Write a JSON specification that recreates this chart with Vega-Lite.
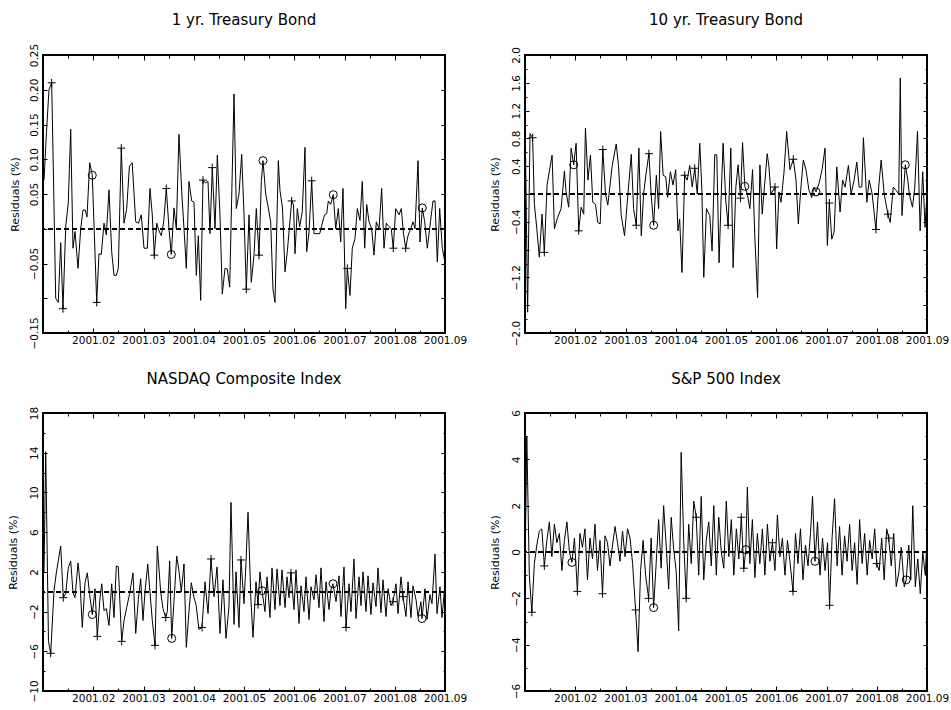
{
"$schema": "https://vega.github.io/schema/vega-lite/v6.json",
"background": "white",
"padding": {"left": 5, "top": 11, "right": 5, "bottom": 5},
"columns": 2,
"bounds": "flush",
"spacing": {"row": 80, "column": 80},
"config": {
  "font": "DejaVu Sans",
  "view": {"stroke": "black", "strokeWidth": 2},
  "axis": {"domain": false, "grid": false, "tickColor": "black", "tickWidth": 1, "labelColor": "black", "titleColor": "black", "labelFont": "DejaVu Sans", "titleFont": "DejaVu Sans", "titleFontWeight": "normal", "labelFontSize": 10.5, "titleFontSize": 11, "labelOverlap": false, "labelBound": false, "labelFlush": false},
  "title": {"font": "DejaVu Sans", "fontSize": 15, "fontWeight": "normal", "color": "black"}
},
"datasets": {
"ty1": [
{"t":1.020,"v":0.07},{"t":1.070,"v":0.14},{"t":1.119,"v":0.20},{"t":1.173,"v":0.21,"m":"+"},{"t":1.253,"v":-0.10},{"t":1.304,"v":-0.106},{"t":1.352,"v":-0.02},{"t":1.398,"v":-0.115,"m":"+"},{"t":1.452,"v":0.003},{"t":1.503,"v":0.037},{"t":1.551,"v":0.143},{"t":1.597,"v":-0.028},{"t":1.637,"v":-0.004},{"t":1.697,"v":-0.057},{"t":1.750,"v":0.0},{"t":1.796,"v":0.027},{"t":1.840,"v":0.027},{"t":1.876,"v":0.017},{"t":1.929,"v":0.095},{"t":1.981,"v":0.077,"m":"o"},{"t":2.069,"v":-0.106,"m":"+"},{"t":2.114,"v":-0.036},{"t":2.160,"v":-0.037},{"t":2.214,"v":0.008},{"t":2.260,"v":-0.009},{"t":2.313,"v":0.056},{"t":2.367,"v":-0.033},{"t":2.413,"v":-0.067},{"t":2.459,"v":-0.067},{"t":2.499,"v":-0.057},{"t":2.558,"v":0.116,"m":"+"},{"t":2.612,"v":0.008},{"t":2.666,"v":0.029},{"t":2.720,"v":0.09},{"t":2.775,"v":0.095},{"t":2.845,"v":0.01},{"t":2.900,"v":0.008},{"t":2.956,"v":0.02},{"t":3.010,"v":-0.028},{"t":3.076,"v":-0.028},{"t":3.129,"v":0.058},{"t":3.175,"v":0.02},{"t":3.215,"v":-0.038,"m":"+"},{"t":3.263,"v":0.008},{"t":3.308,"v":-0.003},{"t":3.354,"v":-0.01},{"t":3.402,"v":0.01},{"t":3.454,"v":0.058,"m":"+"},{"t":3.507,"v":0.0},{"t":3.553,"v":-0.037,"m":"o"},{"t":3.607,"v":0.03},{"t":3.653,"v":0.0},{"t":3.706,"v":0.136},{"t":3.760,"v":0.054},{"t":3.806,"v":0.0},{"t":3.852,"v":-0.057},{"t":3.905,"v":0.068},{"t":3.959,"v":0.04},{"t":4.005,"v":0.038},{"t":4.051,"v":-0.067},{"t":4.091,"v":-0.01},{"t":4.138,"v":-0.103},{"t":4.184,"v":0.07,"m":"+"},{"t":4.234,"v":0.066},{"t":4.284,"v":0.068},{"t":4.323,"v":-0.007},{"t":4.369,"v":0.088,"m":"+"},{"t":4.423,"v":0.0},{"t":4.469,"v":0.106},{"t":4.522,"v":0.02},{"t":4.568,"v":-0.094},{"t":4.622,"v":-0.057},{"t":4.668,"v":-0.058},{"t":4.715,"v":-0.084},{"t":4.801,"v":0.194},{"t":4.847,"v":0.029},{"t":4.900,"v":0.05},{"t":4.954,"v":0.107},{"t":5.000,"v":0.02},{"t":5.046,"v":-0.087,"m":"+"},{"t":5.100,"v":0.02},{"t":5.145,"v":-0.077},{"t":5.199,"v":-0.038},{"t":5.245,"v":0.029},{"t":5.299,"v":-0.038,"m":"+"},{"t":5.345,"v":0.068},{"t":5.378,"v":0.098,"m":"o"},{"t":5.432,"v":0.05},{"t":5.484,"v":0.03},{"t":5.531,"v":0.01},{"t":5.577,"v":-0.087},{"t":5.617,"v":-0.106},{"t":5.683,"v":0.098},{"t":5.716,"v":0.055},{"t":5.766,"v":0.03},{"t":5.816,"v":-0.062},{"t":5.862,"v":-0.033},{"t":5.949,"v":0.04,"m":"+"},{"t":5.985,"v":0.035},{"t":6.015,"v":-0.036},{"t":6.061,"v":0.029},{"t":6.108,"v":0.003},{"t":6.160,"v":0.025},{"t":6.214,"v":0.117},{"t":6.248,"v":-0.033},{"t":6.294,"v":-0.005},{"t":6.347,"v":0.069,"m":"+"},{"t":6.393,"v":-0.007},{"t":6.453,"v":-0.007},{"t":6.507,"v":-0.007},{"t":6.558,"v":0.008},{"t":6.602,"v":0.02},{"t":6.646,"v":0.022},{"t":6.678,"v":0.04},{"t":6.725,"v":0.035},{"t":6.777,"v":0.049,"m":"o"},{"t":6.825,"v":0.0},{"t":6.877,"v":0.029},{"t":6.924,"v":-0.019},{"t":6.970,"v":0.058},{"t":7.024,"v":-0.115},{"t":7.056,"v":-0.057,"m":"+"},{"t":7.109,"v":-0.096},{"t":7.155,"v":-0.028},{"t":7.209,"v":-0.014},{"t":7.255,"v":0.029},{"t":7.308,"v":0.012},{"t":7.354,"v":0.068},{"t":7.402,"v":-0.028},{"t":7.442,"v":0.035},{"t":7.488,"v":0.01},{"t":7.541,"v":0.0},{"t":7.587,"v":-0.038},{"t":7.633,"v":0.01},{"t":7.687,"v":0.0},{"t":7.740,"v":0.058},{"t":7.786,"v":-0.028},{"t":7.832,"v":0.008},{"t":7.886,"v":0.003},{"t":7.931,"v":0.0},{"t":7.971,"v":-0.028,"m":"+"},{"t":8.019,"v":0.029},{"t":8.085,"v":0.02},{"t":8.130,"v":0.029},{"t":8.174,"v":-0.007},{"t":8.218,"v":-0.028,"m":"+"},{"t":8.264,"v":-0.01},{"t":8.318,"v":0.0},{"t":8.363,"v":0.01},{"t":8.403,"v":0.0},{"t":8.463,"v":0.098},{"t":8.502,"v":-0.019},{"t":8.548,"v":0.03,"m":"o"},{"t":8.596,"v":0.01},{"t":8.648,"v":-0.028},{"t":8.711,"v":0.01},{"t":8.761,"v":0.04},{"t":8.801,"v":0.04},{"t":8.847,"v":-0.048},{"t":8.894,"v":0.029},{"t":8.946,"v":-0.028},{"t":8.990,"v":-0.045}
],
"ty10": [
{"t":1.006,"v":0.85},{"t":1.052,"v":-1.7},{"t":1.100,"v":0.87},{"t":1.152,"v":0.81,"m":"+"},{"t":1.186,"v":-0.14},{"t":1.235,"v":-0.5},{"t":1.285,"v":-0.91},{"t":1.339,"v":-0.29},{"t":1.385,"v":-0.84,"m":"+"},{"t":1.439,"v":0.13},{"t":1.539,"v":0.56},{"t":1.585,"v":-0.50},{"t":1.644,"v":-0.35},{"t":1.718,"v":-0.21},{"t":1.784,"v":0.33},{"t":1.818,"v":0.03},{"t":1.870,"v":-0.19},{"t":1.918,"v":0.66},{"t":1.970,"v":0.42,"m":"o"},{"t":2.017,"v":0.73},{"t":2.069,"v":-0.53,"m":"+"},{"t":2.117,"v":-0.19},{"t":2.169,"v":-0.29},{"t":2.203,"v":0.95},{"t":2.253,"v":0.2},{"t":2.303,"v":0.56},{"t":2.349,"v":-0.12},{"t":2.403,"v":-0.15},{"t":2.448,"v":-0.41},{"t":2.496,"v":-0.43},{"t":2.548,"v":0.64,"m":"+"},{"t":2.602,"v":0.0},{"t":2.648,"v":-0.16},{"t":2.736,"v":0.41},{"t":2.815,"v":0.72},{"t":2.861,"v":0.41},{"t":2.915,"v":-0.31},{"t":2.981,"v":-0.60},{"t":3.035,"v":-0.12},{"t":3.115,"v":0.57},{"t":3.161,"v":-0.21},{"t":3.214,"v":-0.45,"m":"+"},{"t":3.266,"v":0.66},{"t":3.314,"v":-0.60},{"t":3.360,"v":0.0},{"t":3.410,"v":0.3},{"t":3.466,"v":0.58,"m":"+"},{"t":3.510,"v":0.0},{"t":3.560,"v":-0.45,"m":"o"},{"t":3.614,"v":0.27},{"t":3.659,"v":-0.21},{"t":3.699,"v":0.90},{"t":3.749,"v":0.27},{"t":3.799,"v":0.25},{"t":3.839,"v":-0.05},{"t":3.893,"v":0.32},{"t":3.945,"v":0.13},{"t":3.999,"v":0.35},{"t":4.044,"v":-0.53},{"t":4.078,"v":-0.36},{"t":4.124,"v":-1.13},{"t":4.178,"v":0.27,"m":"+"},{"t":4.228,"v":0.2},{"t":4.278,"v":0.41},{"t":4.328,"v":0.1},{"t":4.378,"v":0.37,"m":"+"},{"t":4.428,"v":0.0},{"t":4.478,"v":0.73},{"t":4.518,"v":0.1},{"t":4.558,"v":-1.2},{"t":4.611,"v":-0.21},{"t":4.677,"v":-0.31},{"t":4.723,"v":-0.82},{"t":4.777,"v":0.57},{"t":4.817,"v":0.56},{"t":4.862,"v":-0.99},{"t":4.906,"v":0.0},{"t":4.942,"v":0.73},{"t":4.996,"v":-0.1},{"t":5.042,"v":-0.45,"m":"+"},{"t":5.096,"v":0.66},{"t":5.142,"v":-1.06},{"t":5.196,"v":0.1},{"t":5.241,"v":0.42},{"t":5.289,"v":-0.06,"m":"+"},{"t":5.329,"v":0.74},{"t":5.375,"v":0.11,"m":"o"},{"t":5.425,"v":0.0},{"t":5.475,"v":-0.21},{"t":5.529,"v":0.35},{"t":5.575,"v":-0.65},{"t":5.629,"v":-1.49},{"t":5.675,"v":0.42},{"t":5.721,"v":-0.29},{"t":5.764,"v":0.1},{"t":5.820,"v":0.58},{"t":5.854,"v":0.4},{"t":5.894,"v":0.0},{"t":5.974,"v":0.10,"m":"+"},{"t":6.008,"v":-0.79},{"t":6.053,"v":0.03},{"t":6.093,"v":-0.12},{"t":6.153,"v":0.3},{"t":6.207,"v":0.90},{"t":6.273,"v":0.35},{"t":6.340,"v":0.50,"m":"+"},{"t":6.393,"v":0.2},{"t":6.439,"v":-0.43},{"t":6.492,"v":0.1},{"t":6.539,"v":0.49},{"t":6.592,"v":0.35},{"t":6.652,"v":0.05},{"t":6.706,"v":-0.05},{"t":6.752,"v":0.1},{"t":6.791,"v":0.03,"m":"o"},{"t":6.851,"v":0.15},{"t":6.911,"v":0.35},{"t":6.971,"v":0.66},{"t":7.017,"v":-0.74},{"t":7.057,"v":-0.13,"m":"+"},{"t":7.105,"v":-0.65},{"t":7.151,"v":-0.55},{"t":7.205,"v":0.39},{"t":7.270,"v":-0.26},{"t":7.320,"v":0.2},{"t":7.370,"v":0.1},{"t":7.436,"v":0.41},{"t":7.490,"v":0.0},{"t":7.550,"v":0.2},{"t":7.603,"v":0.46},{"t":7.649,"v":0.1},{"t":7.703,"v":0.1},{"t":7.735,"v":0.81},{"t":7.803,"v":-0.12},{"t":7.849,"v":0.2},{"t":7.909,"v":0.0},{"t":7.983,"v":-0.51,"m":"+"},{"t":8.039,"v":0.1},{"t":8.088,"v":0.49},{"t":8.148,"v":0.0},{"t":8.222,"v":-0.29,"m":"+"},{"t":8.268,"v":-0.41},{"t":8.328,"v":0.1},{"t":8.388,"v":0.05},{"t":8.438,"v":0.0},{"t":8.468,"v":1.67},{"t":8.502,"v":-0.31},{"t":8.568,"v":0.42,"m":"o"},{"t":8.618,"v":0.2},{"t":8.648,"v":0.0},{"t":8.711,"v":-0.19},{"t":8.757,"v":0.1},{"t":8.811,"v":0.90},{"t":8.863,"v":-0.53},{"t":8.915,"v":0.32},{"t":8.961,"v":-0.48},{"t":8.999,"v":0.0}
],
"nasdaq": [
{"t":1.020,"v":2.0},{"t":1.054,"v":14.1},{"t":1.109,"v":-5.0},{"t":1.153,"v":-6.2,"m":"+"},{"t":1.219,"v":0.1},{"t":1.265,"v":1.9},{"t":1.352,"v":4.6},{"t":1.404,"v":-0.6,"m":"+"},{"t":1.452,"v":-0.2},{"t":1.503,"v":2.4},{"t":1.551,"v":3.1},{"t":1.597,"v":-0.1},{"t":1.637,"v":-0.6},{"t":1.697,"v":2.9},{"t":1.736,"v":1.0},{"t":1.782,"v":-3.6},{"t":1.836,"v":0.9},{"t":1.882,"v":1.9},{"t":1.929,"v":-0.3},{"t":1.981,"v":-2.3,"m":"o"},{"t":2.035,"v":0.3},{"t":2.081,"v":-4.5,"m":"+"},{"t":2.128,"v":-1.0},{"t":2.168,"v":0.8},{"t":2.214,"v":-1.9},{"t":2.260,"v":-1.7},{"t":2.313,"v":-3.4},{"t":2.367,"v":0.8},{"t":2.413,"v":-2.6},{"t":2.459,"v":2.6},{"t":2.499,"v":2.5},{"t":2.566,"v":-5.0,"m":"+"},{"t":2.612,"v":-2.9},{"t":2.666,"v":-1.6},{"t":2.731,"v":0.0},{"t":2.791,"v":1.9},{"t":2.845,"v":-4.2},{"t":2.897,"v":-0.8},{"t":2.944,"v":1.3},{"t":2.990,"v":-2.9},{"t":3.030,"v":0.0},{"t":3.084,"v":2.8},{"t":3.129,"v":0.0},{"t":3.175,"v":-2.9},{"t":3.229,"v":-5.4,"m":"+"},{"t":3.275,"v":4.6},{"t":3.342,"v":0.0},{"t":3.388,"v":-1.7},{"t":3.442,"v":-2.6,"m":"+"},{"t":3.474,"v":-2.0},{"t":3.521,"v":3.1},{"t":3.561,"v":-4.7,"m":"o"},{"t":3.607,"v":-0.9},{"t":3.661,"v":3.6},{"t":3.706,"v":2.1},{"t":3.752,"v":0.0},{"t":3.806,"v":2.8},{"t":3.852,"v":-5.6},{"t":3.905,"v":-2.0},{"t":3.951,"v":0.9},{"t":4.005,"v":-0.6},{"t":4.045,"v":-1.3},{"t":4.104,"v":-3.8},{"t":4.164,"v":-3.6,"m":"+"},{"t":4.224,"v":1.0},{"t":4.284,"v":-2.2},{"t":4.343,"v":3.3,"m":"+"},{"t":4.403,"v":-0.5},{"t":4.463,"v":2.5},{"t":4.522,"v":-4.2},{"t":4.582,"v":1.2},{"t":4.642,"v":-4.7},{"t":4.701,"v":-1.5},{"t":4.741,"v":9.0},{"t":4.801,"v":-3.3},{"t":4.841,"v":2.0},{"t":4.900,"v":-3.6},{"t":4.940,"v":3.2,"m":"+"},{"t":5.000,"v":-1.2},{"t":5.040,"v":3.0},{"t":5.080,"v":8.0},{"t":5.139,"v":-1.0},{"t":5.179,"v":-4.6},{"t":5.239,"v":1.0},{"t":5.279,"v":-1.3,"m":"+"},{"t":5.318,"v":2.0},{"t":5.358,"v":0.1,"m":"o"},{"t":5.418,"v":-2.0},{"t":5.458,"v":1.5},{"t":5.517,"v":-2.6},{"t":5.557,"v":2.4},{"t":5.617,"v":-1.8},{"t":5.657,"v":2.3},{"t":5.716,"v":-1.4},{"t":5.756,"v":2.2},{"t":5.816,"v":-1.6},{"t":5.856,"v":1.5},{"t":5.896,"v":-0.6},{"t":5.935,"v":1.9,"m":"+"},{"t":5.995,"v":-1.8},{"t":6.035,"v":2.2},{"t":6.095,"v":-3.2},{"t":6.134,"v":0.6},{"t":6.194,"v":-2.0},{"t":6.234,"v":1.5},{"t":6.294,"v":-2.8},{"t":6.333,"v":0.5},{"t":6.393,"v":-0.8},{"t":6.433,"v":1.7},{"t":6.493,"v":-1.6},{"t":6.532,"v":2.4},{"t":6.592,"v":-3.0},{"t":6.632,"v":1.0},{"t":6.692,"v":-1.8},{"t":6.731,"v":0.2},{"t":6.771,"v":0.8,"m":"o"},{"t":6.831,"v":-1.0},{"t":6.891,"v":1.6},{"t":6.930,"v":-2.5},{"t":6.990,"v":2.5},{"t":7.030,"v":-3.6,"m":"+"},{"t":7.090,"v":0.8},{"t":7.129,"v":-2.0},{"t":7.189,"v":3.3},{"t":7.229,"v":-2.7},{"t":7.289,"v":1.5},{"t":7.328,"v":-1.4},{"t":7.368,"v":2.0},{"t":7.428,"v":-2.0},{"t":7.468,"v":1.6},{"t":7.527,"v":-2.3},{"t":7.567,"v":0.9},{"t":7.627,"v":-1.5},{"t":7.667,"v":2.4},{"t":7.726,"v":-2.1},{"t":7.766,"v":1.2},{"t":7.826,"v":-2.5},{"t":7.866,"v":0.3},{"t":7.925,"v":-1.4},{"t":7.965,"v":-1.0,"m":"+"},{"t":8.025,"v":0.8},{"t":8.065,"v":-2.2},{"t":8.124,"v":1.5},{"t":8.164,"v":-0.5,"m":"+"},{"t":8.224,"v":-2.5},{"t":8.264,"v":1.0},{"t":8.323,"v":-2.6},{"t":8.363,"v":0.6},{"t":8.423,"v":-0.8},{"t":8.463,"v":-2.5},{"t":8.522,"v":-1.0},{"t":8.542,"v":-2.7,"m":"o"},{"t":8.602,"v":0.3},{"t":8.642,"v":-2.8},{"t":8.701,"v":-0.3},{"t":8.741,"v":-1.2},{"t":8.801,"v":3.8},{"t":8.841,"v":-2.2},{"t":8.900,"v":0.5},{"t":8.940,"v":-2.6},{"t":8.995,"v":0.5}
],
"sp": [
{"t":1.006,"v":0.0},{"t":1.036,"v":5.0},{"t":1.086,"v":-1.0},{"t":1.136,"v":-2.6,"m":"+"},{"t":1.186,"v":-0.5},{"t":1.235,"v":0.3},{"t":1.285,"v":0.9},{"t":1.335,"v":1.0},{"t":1.385,"v":-0.6,"m":"+"},{"t":1.435,"v":0.5},{"t":1.485,"v":1.3},{"t":1.535,"v":-0.2},{"t":1.585,"v":1.2},{"t":1.634,"v":0.4},{"t":1.684,"v":0.8},{"t":1.734,"v":-0.8},{"t":1.784,"v":0.5},{"t":1.834,"v":1.3},{"t":1.884,"v":0.0},{"t":1.934,"v":-0.45,"m":"o"},{"t":1.984,"v":0.6},{"t":2.043,"v":-1.7,"m":"+"},{"t":2.093,"v":0.8},{"t":2.143,"v":0.2},{"t":2.193,"v":1.0},{"t":2.243,"v":-1.2},{"t":2.293,"v":0.6},{"t":2.343,"v":-0.3},{"t":2.393,"v":1.2},{"t":2.442,"v":-0.8},{"t":2.492,"v":0.5},{"t":2.542,"v":-1.8,"m":"+"},{"t":2.592,"v":0.7},{"t":2.642,"v":0.4},{"t":2.692,"v":-0.6},{"t":2.742,"v":0.3},{"t":2.792,"v":1.1},{"t":2.841,"v":0.4},{"t":2.891,"v":-0.4},{"t":2.941,"v":0.9},{"t":2.991,"v":-0.2},{"t":3.041,"v":1.0},{"t":3.091,"v":0.6},{"t":3.141,"v":-0.5},{"t":3.201,"v":-2.5,"m":"+"},{"t":3.250,"v":-4.3},{"t":3.300,"v":-0.8},{"t":3.350,"v":0.5},{"t":3.400,"v":-1.0},{"t":3.460,"v":-2.0,"m":"+"},{"t":3.510,"v":0.6},{"t":3.560,"v":-2.4,"m":"o"},{"t":3.610,"v":-0.5},{"t":3.659,"v":1.4},{"t":3.709,"v":-0.7},{"t":3.759,"v":2.0},{"t":3.809,"v":0.3},{"t":3.859,"v":-1.6},{"t":3.909,"v":1.5},{"t":3.959,"v":0.1},{"t":4.008,"v":-0.8},{"t":4.058,"v":-3.4},{"t":4.108,"v":4.3},{"t":4.158,"v":0.5},{"t":4.208,"v":-2.0,"m":"+"},{"t":4.258,"v":1.2},{"t":4.308,"v":-0.5},{"t":4.358,"v":2.2},{"t":4.408,"v":1.5,"m":"+"},{"t":4.457,"v":-1.0},{"t":4.507,"v":2.4},{"t":4.557,"v":-1.2},{"t":4.607,"v":0.5},{"t":4.657,"v":1.3},{"t":4.707,"v":-0.6},{"t":4.757,"v":2.0},{"t":4.807,"v":-1.0},{"t":4.856,"v":1.5},{"t":4.906,"v":0.0},{"t":4.956,"v":-0.7},{"t":5.006,"v":2.2},{"t":5.056,"v":-0.2},{"t":5.106,"v":1.4},{"t":5.156,"v":-1.0},{"t":5.206,"v":1.0},{"t":5.255,"v":-0.3},{"t":5.305,"v":1.5,"m":"+"},{"t":5.355,"v":-0.7,"m":"+"},{"t":5.395,"v":0.1,"m":"o"},{"t":5.425,"v":2.8},{"t":5.475,"v":-0.5},{"t":5.525,"v":1.4},{"t":5.575,"v":-1.1},{"t":5.624,"v":0.8},{"t":5.674,"v":-0.5},{"t":5.724,"v":1.0},{"t":5.774,"v":-1.0},{"t":5.824,"v":1.2},{"t":5.874,"v":-0.4},{"t":5.924,"v":0.4,"m":"+"},{"t":5.974,"v":-0.8},{"t":6.023,"v":1.6},{"t":6.073,"v":-0.2},{"t":6.123,"v":0.6},{"t":6.173,"v":-1.0},{"t":6.223,"v":0.5},{"t":6.273,"v":-0.4},{"t":6.333,"v":-1.7,"m":"+"},{"t":6.383,"v":0.8},{"t":6.432,"v":-0.5},{"t":6.482,"v":1.0},{"t":6.532,"v":-1.2},{"t":6.582,"v":0.3},{"t":6.632,"v":-0.6},{"t":6.682,"v":0.8},{"t":6.722,"v":2.4},{"t":6.772,"v":-0.4,"m":"o"},{"t":6.821,"v":1.3},{"t":6.871,"v":-1.0},{"t":6.921,"v":0.6},{"t":6.971,"v":-0.8},{"t":7.021,"v":0.4},{"t":7.061,"v":-2.3,"m":"+"},{"t":7.111,"v":0.6},{"t":7.161,"v":2.3},{"t":7.211,"v":-0.6},{"t":7.260,"v":1.1},{"t":7.310,"v":-1.0},{"t":7.360,"v":0.7},{"t":7.410,"v":-0.4},{"t":7.460,"v":1.2},{"t":7.510,"v":-0.8},{"t":7.560,"v":0.4},{"t":7.610,"v":-1.4},{"t":7.659,"v":1.4},{"t":7.709,"v":-0.5},{"t":7.759,"v":0.8},{"t":7.809,"v":-1.0},{"t":7.859,"v":0.5},{"t":7.909,"v":-0.3},{"t":7.959,"v":1.0},{"t":7.999,"v":-0.5,"m":"+"},{"t":8.049,"v":-0.8},{"t":8.098,"v":0.6},{"t":8.148,"v":-1.2},{"t":8.198,"v":1.0},{"t":8.238,"v":0.6,"m":"+"},{"t":8.288,"v":-0.6},{"t":8.338,"v":0.8},{"t":8.388,"v":-1.5},{"t":8.438,"v":-0.9},{"t":8.488,"v":0.2},{"t":8.547,"v":-1.5},{"t":8.587,"v":-1.2,"m":"o"},{"t":8.637,"v":0.3},{"t":8.677,"v":-1.2},{"t":8.717,"v":2.0},{"t":8.767,"v":-1.5},{"t":8.817,"v":-0.3},{"t":8.866,"v":-1.8},{"t":8.916,"v":0.0},{"t":8.966,"v":-1.0},{"t":8.996,"v":0.4}
]
},
"concat": [
{
 "title": {"text": "1 yr. Treasury Bond", "offset": 15},
 "width": 402, "height": 278,
 "data": {"name": "ty1"},
 "layer": [
  {"mark": {"type": "line", "color": "black", "strokeWidth": 1},
   "encoding": {
    "x": {"field": "t", "type": "quantitative", "scale": {"domain": [1, 9], "nice": false, "zero": false},
      "axis": {"orient": "bottom", "title": null, "values": [1,1.5,2,2.5,3,3.5,4,4.5,5,5.5,6,6.5,7,7.5,8,8.5,9], "labelExpr": "datum.value >= 2 && datum.value % 1 == 0 ? '2001.0' + datum.value : ''", "tickSize": {"expr": "datum.value % 1 == 0 ? -5 : -3"}, "labelPadding": 7}},
    "y": {"field": "v", "type": "quantitative", "scale": {"domain": [-0.15, 0.25], "nice": false, "zero": false},
      "axis": {"orient": "left", "title": "Residuals (%)", "values": [-0.15,-0.1,-0.05,0,0.05,0.1,0.15,0.2,0.25], "labelExpr": "abs(datum.value) < 1e-9 || abs(datum.value + 0.1) < 1e-9 ? '' : format(datum.value, '.2f')", "tickSize": -4, "labelPadding": 8, "labelAngle": -90, "labelAlign": "center", "labelBaseline": "bottom", "titlePadding": 9}}
   }},
  {"transform": [{"filter": "datum.m != null"}],
   "mark": {"type": "point", "filled": false, "color": "black", "strokeWidth": 1, "size": 64, "opacity": 1},
   "encoding": {
    "x": {"field": "t", "type": "quantitative", "axis": {"orient": "top", "labels": false, "title": null, "values": [1,1.5,2,2.5,3,3.5,4,4.5,5,5.5,6,6.5,7,7.5,8,8.5,9], "tickSize": {"expr": "datum.value % 1 == 0 ? -5 : -3"}}},
    "y": {"field": "v", "type": "quantitative", "axis": {"orient": "right", "labels": false, "title": null, "values": [-0.15,-0.1,-0.05,0,0.05,0.1,0.15,0.2,0.25], "tickSize": -4}},
    "shape": {"field": "m", "type": "nominal", "scale": {"domain": ["+", "o"], "range": ["M-1,0H1M0,-1V1", "circle"]}, "legend": null}
   }},
  {"mark": {"type": "rule", "color": "black", "strokeWidth": 1, "strokeDash": [5, 3]},
   "encoding": {"y": {"datum": 0, "type": "quantitative", "axis": null}}}
 ]
},
{
 "title": {"text": "10 yr. Treasury Bond", "offset": 19},
 "width": 402, "height": 278,
 "data": {"name": "ty10"},
 "layer": [
  {"mark": {"type": "line", "color": "black", "strokeWidth": 1},
   "encoding": {
    "x": {"field": "t", "type": "quantitative", "scale": {"domain": [1, 9], "nice": false, "zero": false},
      "axis": {"orient": "bottom", "title": null, "values": [1,1.5,2,2.5,3,3.5,4,4.5,5,5.5,6,6.5,7,7.5,8,8.5,9], "labelExpr": "datum.value >= 2 && datum.value % 1 == 0 ? '2001.0' + datum.value : ''", "tickSize": {"expr": "datum.value % 1 == 0 ? -5 : -3"}, "labelPadding": 7}},
    "y": {"field": "v", "type": "quantitative", "scale": {"domain": [-2, 2], "nice": false, "zero": false},
      "axis": {"orient": "left", "title": "Residuals (%)", "values": [-2,-1.8,-1.6,-1.4,-1.2,-1,-0.8,-0.6,-0.4,-0.2,0,0.2,0.4,0.6,0.8,1,1.2,1.4,1.6,1.8,2], "labelExpr": "abs(round(datum.value*10)) % 4 != 0 || round(datum.value*10) == 0 || round(datum.value*10) == -8 || round(datum.value*10) == -16 ? '' : format(datum.value, '.1f')", "tickSize": {"expr": "abs(round(datum.value*10)) % 4 == 0 ? -4 : -2"}, "labelPadding": 8, "labelAngle": -90, "labelAlign": "center", "labelBaseline": "bottom", "titlePadding": 9}}
   }},
  {"transform": [{"filter": "datum.m != null"}],
   "mark": {"type": "point", "filled": false, "color": "black", "strokeWidth": 1, "size": 64, "opacity": 1},
   "encoding": {
    "x": {"field": "t", "type": "quantitative", "axis": {"orient": "top", "labels": false, "title": null, "values": [1,1.5,2,2.5,3,3.5,4,4.5,5,5.5,6,6.5,7,7.5,8,8.5,9], "tickSize": {"expr": "datum.value % 1 == 0 ? -5 : -3"}}},
    "y": {"field": "v", "type": "quantitative", "axis": {"orient": "right", "labels": false, "title": null, "values": [-2,-1.8,-1.6,-1.4,-1.2,-1,-0.8,-0.6,-0.4,-0.2,0,0.2,0.4,0.6,0.8,1,1.2,1.4,1.6,1.8,2], "tickSize": {"expr": "abs(round(datum.value*10)) % 4 == 0 ? -4 : -2"}}},
    "shape": {"field": "m", "type": "nominal", "scale": {"domain": ["+", "o"], "range": ["M-1,0H1M0,-1V1", "circle"]}, "legend": null}
   }},
  {"mark": {"type": "rule", "color": "black", "strokeWidth": 1, "strokeDash": [5, 3]},
   "encoding": {"y": {"datum": 0, "type": "quantitative", "axis": null}}}
 ]
},
{
 "title": {"text": "NASDAQ Composite Index", "offset": 19},
 "width": 402, "height": 278,
 "data": {"name": "nasdaq"},
 "layer": [
  {"mark": {"type": "line", "color": "black", "strokeWidth": 1},
   "encoding": {
    "x": {"field": "t", "type": "quantitative", "scale": {"domain": [1, 9], "nice": false, "zero": false},
      "axis": {"orient": "bottom", "title": null, "values": [1,1.5,2,2.5,3,3.5,4,4.5,5,5.5,6,6.5,7,7.5,8,8.5,9], "labelExpr": "datum.value >= 2 && datum.value % 1 == 0 ? '2001.0' + datum.value : ''", "tickSize": {"expr": "datum.value % 1 == 0 ? -5 : -3"}, "labelPadding": 7}},
    "y": {"field": "v", "type": "quantitative", "scale": {"domain": [-10, 18], "nice": false, "zero": false},
      "axis": {"orient": "left", "title": "Residuals (%)", "values": [-10,-8,-6,-4,-2,0,2,4,6,8,10,12,14,16,18], "labelExpr": "(datum.value + 10) % 4 == 0 ? format(datum.value, 'd') : ''", "tickSize": {"expr": "(datum.value + 10) % 4 == 0 ? -4 : -2"}, "labelPadding": 8, "labelAngle": -90, "labelAlign": "center", "labelBaseline": "bottom", "titlePadding": 9}}
   }},
  {"transform": [{"filter": "datum.m != null"}],
   "mark": {"type": "point", "filled": false, "color": "black", "strokeWidth": 1, "size": 64, "opacity": 1},
   "encoding": {
    "x": {"field": "t", "type": "quantitative", "axis": {"orient": "top", "labels": false, "title": null, "values": [1,1.5,2,2.5,3,3.5,4,4.5,5,5.5,6,6.5,7,7.5,8,8.5,9], "tickSize": {"expr": "datum.value % 1 == 0 ? -5 : -3"}}},
    "y": {"field": "v", "type": "quantitative", "axis": {"orient": "right", "labels": false, "title": null, "values": [-10,-8,-6,-4,-2,0,2,4,6,8,10,12,14,16,18], "tickSize": {"expr": "(datum.value + 10) % 4 == 0 ? -4 : -2"}}},
    "shape": {"field": "m", "type": "nominal", "scale": {"domain": ["+", "o"], "range": ["M-1,0H1M0,-1V1", "circle"]}, "legend": null}
   }},
  {"mark": {"type": "rule", "color": "black", "strokeWidth": 1, "strokeDash": [5, 3]},
   "encoding": {"y": {"datum": 0, "type": "quantitative", "axis": null}}}
 ]
},
{
 "title": {"text": "S&P 500 Index", "offset": 23},
 "width": 402, "height": 278,
 "data": {"name": "sp"},
 "layer": [
  {"mark": {"type": "line", "color": "black", "strokeWidth": 1},
   "encoding": {
    "x": {"field": "t", "type": "quantitative", "scale": {"domain": [1, 9], "nice": false, "zero": false},
      "axis": {"orient": "bottom", "title": null, "values": [1,1.5,2,2.5,3,3.5,4,4.5,5,5.5,6,6.5,7,7.5,8,8.5,9], "labelExpr": "datum.value >= 2 && datum.value % 1 == 0 ? '2001.0' + datum.value : ''", "tickSize": {"expr": "datum.value % 1 == 0 ? -5 : -3"}, "labelPadding": 7}},
    "y": {"field": "v", "type": "quantitative", "scale": {"domain": [-6, 6], "nice": false, "zero": false},
      "axis": {"orient": "left", "title": "Residuals (%)", "values": [-6,-5,-4,-3,-2,-1,0,1,2,3,4,5,6], "labelExpr": "datum.value % 2 == 0 ? format(datum.value, 'd') : ''", "tickSize": {"expr": "datum.value % 2 == 0 ? -4 : -2"}, "labelPadding": 8, "labelAngle": -90, "labelAlign": "center", "labelBaseline": "bottom", "titlePadding": 9}}
   }},
  {"transform": [{"filter": "datum.m != null"}],
   "mark": {"type": "point", "filled": false, "color": "black", "strokeWidth": 1, "size": 64, "opacity": 1},
   "encoding": {
    "x": {"field": "t", "type": "quantitative", "axis": {"orient": "top", "labels": false, "title": null, "values": [1,1.5,2,2.5,3,3.5,4,4.5,5,5.5,6,6.5,7,7.5,8,8.5,9], "tickSize": {"expr": "datum.value % 1 == 0 ? -5 : -3"}}},
    "y": {"field": "v", "type": "quantitative", "axis": {"orient": "right", "labels": false, "title": null, "values": [-6,-5,-4,-3,-2,-1,0,1,2,3,4,5,6], "tickSize": {"expr": "datum.value % 2 == 0 ? -4 : -2"}}},
    "shape": {"field": "m", "type": "nominal", "scale": {"domain": ["+", "o"], "range": ["M-1,0H1M0,-1V1", "circle"]}, "legend": null}
   }},
  {"mark": {"type": "rule", "color": "black", "strokeWidth": 1, "strokeDash": [5, 3]},
   "encoding": {"y": {"datum": 0, "type": "quantitative", "axis": null}}}
 ]
}
]
}
